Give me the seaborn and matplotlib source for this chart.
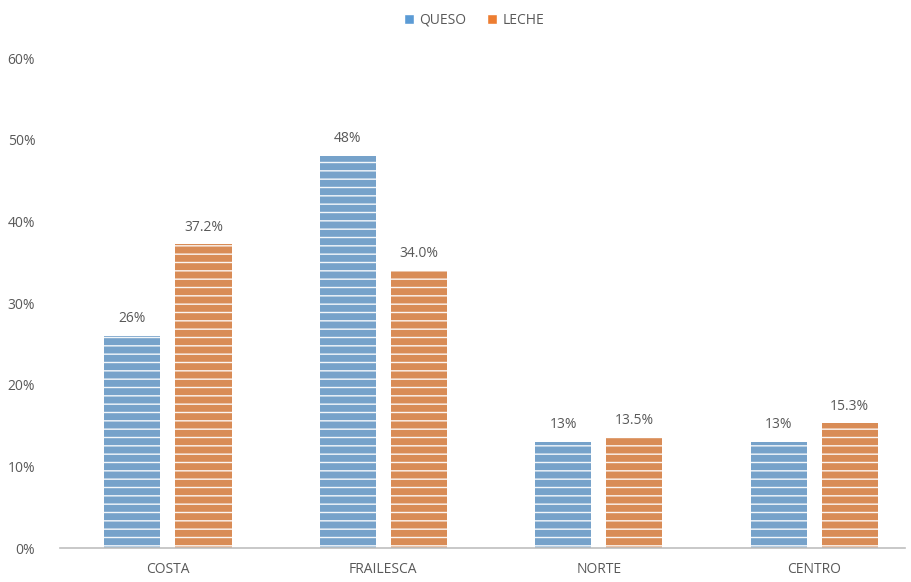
import pandas as pd
import seaborn as sns
import matplotlib.pyplot as plt
from matplotlib.patches import Patch

# Regional shares
regions = ["COSTA", "FRAILESCA", "NORTE", "CENTRO"]
queso = [26.0, 48.0, 13.0, 13.0]
leche = [37.2, 34.0, 13.5, 15.3]
queso_labels = ["26%", "48%", "13%", "13%"]
leche_labels = ["37.2%", "34.0%", "13.5%", "15.3%"]

df = pd.DataFrame({
    "region": regions * 2,
    "producto": ["QUESO"] * 4 + ["LECHE"] * 4,
    "valor": queso + leche,
})

sns.set_style("white")
plt.rcParams["font.family"] = ["Open Sans", "DejaVu Sans"]
plt.rcParams["hatch.linewidth"] = 1.0

colors = {"QUESO": "#5B9BD5", "LECHE": "#ED7D31"}
text_gray = "#595959"

fig = plt.figure(figsize=(9.12, 5.82), dpi=100)
ax = fig.add_axes([0.066, 0.058, 0.926, 0.842])

sns.barplot(data=df, x="region", y="valor", hue="producto", palette=colors,
            width=0.66, gap=0.21, ax=ax, legend=False,
            edgecolor="white", linewidth=0)

for bar in ax.patches:
    bar.set_hatch("--")
    bar.set_alpha(0.92)

for cont, labs in zip(ax.containers, [queso_labels, leche_labels]):
    ax.bar_label(cont, labels=labs, padding=7, fontsize=10, color=text_gray)

ax.set_ylim(0, 60)
ax.set_yticks(range(0, 61, 10))
ax.set_yticklabels([f"{v}%" for v in range(0, 61, 10)])
ax.set_xlim(-0.5, 3.42)
ax.set_xlabel("")
ax.set_ylabel("")
ax.tick_params(axis="both", length=0, labelsize=10, colors=text_gray)
ax.tick_params(axis="y", pad=18)
ax.tick_params(axis="x", pad=10)
for side in ["top", "right", "left"]:
    ax.spines[side].set_visible(False)
ax.spines["bottom"].set_color("#BFBFBF")
ax.spines["bottom"].set_linewidth(1.2)

handles = [Patch(facecolor=colors["QUESO"]), Patch(facecolor=colors["LECHE"])]
fig.legend(handles, ["QUESO", "LECHE"], loc="upper center",
           bbox_to_anchor=(0.52, 1.0), ncol=2, frameon=False, fontsize=10,
           handlelength=0.7, handleheight=0.7, handletextpad=0.4,
           columnspacing=1.5, labelcolor=text_gray)

plt.savefig("out.png", dpi=100)
